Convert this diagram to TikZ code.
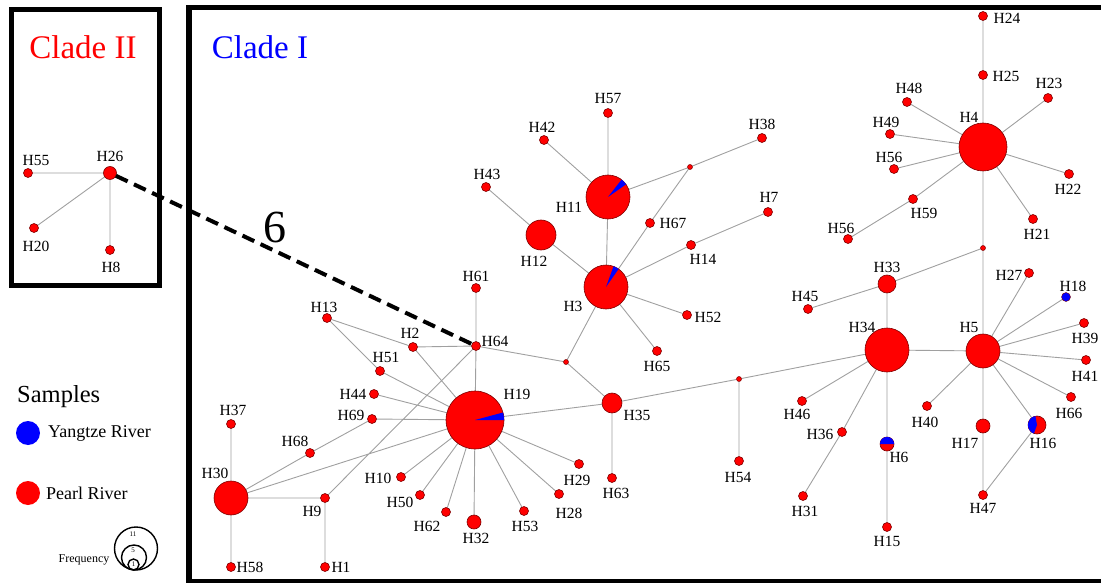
\documentclass[tikz,border=0pt]{standalone}
\usepackage{fontspec}
\setmainfont{Liberation Serif}
\usetikzlibrary{backgrounds}
\definecolor{nodered}{RGB}{255,0,0}
\definecolor{rimred}{RGB}{125,0,0}
\definecolor{edgegray}{RGB}{160,160,160}
\definecolor{pieblue}{RGB}{0,0,255}
\begin{document}
\begin{tikzpicture}[x=1pt,y=-1pt,
  hap/.style={circle,fill=nodered,draw=rimred,line width=0.6pt,inner sep=0pt,outer sep=0pt,minimum size=#1},
  hap/.default=9pt,
  med/.style={circle,fill=nodered,draw=rimred,line width=0.5pt,inner sep=0pt,outer sep=0pt,minimum size=5pt},
  lbl/.style={font=\fontsize{15.5}{16}\selectfont,inner sep=0pt},
  edge/.style={draw=edgegray,line width=0.9pt},
  clade/.style={font=\fontsize{33}{36}\selectfont,inner sep=0pt},
  legtxt/.style={font=\fontsize{18}{20}\selectfont,inner sep=0pt,anchor=west},
  freq/.style={circle,draw=black,line width=1.4pt,inner sep=0pt,outer sep=0pt,minimum size=#1},
  ftxt/.style={font=\fontsize{7}{8}\selectfont,inner sep=0pt}]
\useasboundingbox (0,0) rectangle (1101,583);
% frames
\draw[line width=5pt,miter limit=10] (11.5,9.5) rectangle (159.5,285);
\begin{scope}
\clip (0,0) rectangle (1101,583);
\draw[line width=5.5pt] (1120,7.5) -- (189,7.5) -- (189,581.5) -- (1120,581.5);
\end{scope}
\node[clade,text=red] (c2) at (83,47) {Clade II};
\node[clade,text=pieblue] (c1) at (260,47) {Clade I};

% ---- Clade II nodes
\node[hap=13pt] (H26) at (110,173) {};
\node[hap] (H55) at (28,173) {};
\node[hap] (H20) at (34,228) {};
\node[hap] (H8) at (110,250) {};
% ---- Clade I nodes
\node[hap] (H13) at (327,318) {};
\node[hap] (H2) at (413,347) {};
\node[hap] (H64) at (476,346) {};
\node[hap] (H61) at (476,288) {};
\node[hap] (H51) at (380,371) {};
\node[hap] (H44) at (374,394) {};
\node[hap] (H69) at (372,419) {};
\node[hap=58pt] (H19) at (475,420) {};
\node[hap] (H37) at (231,424) {};
\node[hap] (H68) at (310,453) {};
\node[hap=34pt] (H30) at (231,498) {};
\node[hap] (H9) at (325,498) {};
\node[hap] (H10) at (401,477) {};
\node[hap] (H50) at (420,495) {};
\node[hap] (H62) at (446,512) {};
\node[hap=14pt] (H32) at (474,522) {};
\node[hap] (H53) at (524,511) {};
\node[hap] (H58) at (231,567) {};
\node[hap] (H1) at (325,567) {};
\node[med] (m1) at (566,362) {};
\node[hap=20pt] (H35) at (612,403) {};
\node[med] (m2) at (739,379) {};
\node[hap] (H54) at (739,461) {};
\node[hap] (H29) at (579,464) {};
\node[hap] (H28) at (559,494) {};
\node[hap] (H63) at (612,478) {};
\node[hap] (H65) at (657,351) {};
\node[hap] (H57) at (608,113) {};
\node[hap] (H42) at (544,140) {};
\node[hap] (H38) at (762,138) {};
\node[med] (m3) at (690,167) {};
\node[hap=44pt] (H11) at (608,197) {};
\node[hap] (H43) at (486,187) {};
\node[hap=30pt] (H12) at (541,235) {};
\node[hap] (H67) at (650,223) {};
\node[hap] (H7) at (768,212) {};
\node[hap] (H14) at (691,245) {};
\node[hap=44pt] (H3) at (606,287) {};
\node[hap] (H52) at (687,315) {};
\node[hap] (H24) at (983,16) {};
\node[hap] (H25) at (983,75) {};
\node[hap=48pt] (H4) at (983,147) {};
\node[hap] (H48) at (907,102) {};
\node[hap] (H49) at (890,134) {};
\node[hap] (H56a) at (894,169) {};
\node[hap] (H59) at (913,199) {};
\node[hap] (H56b) at (848,239) {};
\node[hap] (H23) at (1048,98) {};
\node[hap] (H22) at (1069,174) {};
\node[hap] (H21) at (1033,219) {};
\node[med] (m4) at (983,248) {};
\node[hap=18pt] (H33) at (887,284) {};
\node[hap] (H27) at (1029,273) {};
\node[circle,fill=pieblue,draw=rimred,line width=0.4pt,inner sep=0pt,outer sep=0pt,minimum size=9pt] (H18) at (1066,297) {};
\node[hap] (H45) at (808,309) {};
\node[hap=44pt] (H34) at (887,350) {};
\node[hap=34pt] (H5) at (983,351) {};
\node[hap] (H39) at (1084,323) {};
\node[hap] (H41) at (1086,360) {};
\node[hap] (H66) at (1071,397) {};
\node[hap=18pt] (H16) at (1037,425) {};
\node[hap=14pt] (H17) at (983,426) {};
\node[hap] (H47) at (983,495) {};
\node[hap] (H40) at (927,406) {};
\node[hap] (H46) at (802,401) {};
\node[hap] (H36) at (842,432) {};
\node[hap=14pt] (H6) at (887,444) {};
\node[hap] (H31) at (803,496) {};
\node[hap] (H15) at (887,527) {};

% pie slices
\fill[pieblue] (H19.center) \foreach \a in {0,5,...,15}{ -- (H19.\a)} -- cycle;
\fill[pieblue] (H11.center) \foreach \a in {35,40,...,52}{ -- (H11.\a)} -- (H11.52) -- cycle;
\fill[pieblue] (H3.center) \foreach \a in {55,60,...,70}{ -- (H3.\a)} -- cycle;
\fill[pieblue] (H16.center) \foreach \a in {100,110,...,250}{ -- (H16.\a)} -- cycle;
\fill[pieblue] (H6.center) \foreach \a in {0,10,...,180}{ -- (H6.\a)} -- cycle;

% edges
\begin{pgfonlayer}{background}
\path[edge] (H26) -- (H55) (H26) -- (H20) (H26) -- (H8);
\path[edge] (H13) -- (H2) (H13) -- (H51) (H2) -- (H64) (H2) -- (H19)
  (H51) -- (H19) (H44) -- (H19) (H69) -- (H19) (H64) -- (H19)
  (H61) -- (H64) (H64) -- (H9) (H30) -- (H68) (H68) -- (H69)
  (H30) -- (H19) (H30) -- (H9) (H30) -- (H37) (H30) -- (H58) (H9) -- (H1)
  (H10) -- (H19) (H50) -- (H19) (H62) -- (H19) (H32) -- (H19) (H53) -- (H19)
  (H28) -- (H19) (H29) -- (H19) (H19) -- (H35) (H64) -- (m1) (m1) -- (H3)
  (m1) -- (H35) (H35) -- (H63) (H35) -- (m2) (m2) -- (H54) (m2) -- (H34);
\path[edge] (H57) -- (H11) (H42) -- (H11) (H11) -- (H3) (H11) -- (m3)
  (m3) -- (H38) (m3) -- (H67) (H67) -- (H3) (H43) -- (H12) (H12) -- (H3)
  (H3) -- (H14) (H14) -- (H7) (H3) -- (H52) (H3) -- (H65);
\path[edge] (H24) -- (H25) (H25) -- (H4) (H48) -- (H4) (H49) -- (H4)
  (H56a) -- (H4) (H59) -- (H4) (H56b) -- (H59) (H23) -- (H4) (H22) -- (H4)
  (H21) -- (H4) (H4) -- (m4) (m4) -- (H33) (m4) -- (H5) (H45) -- (H33)
  (H33) -- (H34) (H34) -- (H5) (H34) -- (H46) (H34) -- (H36) (H36) -- (H31)
  (H34) -- (H6) (H6) -- (H15) (H5) -- (H27) (H5) -- (H18) (H5) -- (H39)
  (H5) -- (H41) (H5) -- (H66) (H5) -- (H16) (H16) -- (H47) (H5) -- (H17)
  (H17) -- (H47) (H5) -- (H40);
\end{pgfonlayer}

% dashed link
\draw[line width=4pt,dash pattern=on 13pt off 7pt] (H26) -- (H64);
\node[font=\fontsize{46}{50}\selectfont,inner sep=0pt] (six) at (275,227) {6};

% labels
\node[lbl] (lH26) at (110,156) {H26};
\node[lbl] (lH55) at (36,161) {H55};
\node[lbl] (lH20) at (36,246) {H20};
\node[lbl] (lH8) at (111,267) {H8};
\node[lbl] (lH13) at (324,307) {H13};
\node[lbl] (lH2) at (410,333) {H2};
\node[lbl] (lH64) at (495,341) {H64};
\node[lbl] (lH61) at (476,276) {H61};
\node[lbl] (lH51) at (386,357) {H51};
\node[lbl] (lH44) at (353,394) {H44};
\node[lbl] (lH69) at (351,415) {H69};
\node[lbl] (lH19) at (517,394) {H19};
\node[lbl] (lH37) at (233,410) {H37};
\node[lbl] (lH68) at (295,441) {H68};
\node[lbl] (lH30) at (215,473) {H30};
\node[lbl] (lH9) at (312,511) {H9};
\node[lbl] (lH10) at (378,478) {H10};
\node[lbl] (lH50) at (400,502) {H50};
\node[lbl] (lH62) at (427,526) {H62};
\node[lbl] (lH32) at (476,538) {H32};
\node[lbl] (lH53) at (525,526) {H53};
\node[lbl] (lH58) at (250,567) {H58};
\node[lbl] (lH1) at (341,567) {H1};
\node[lbl] (lH35) at (637,415) {H35};
\node[lbl] (lH54) at (738,477) {H54};
\node[lbl] (lH29) at (577,480) {H29};
\node[lbl] (lH28) at (569,513) {H28};
\node[lbl] (lH63) at (616,493) {H63};
\node[lbl] (lH65) at (657,366) {H65};
\node[lbl] (lH57) at (608,99) {H57};
\node[lbl] (lH42) at (542,127) {H42};
\node[lbl] (lH38) at (762,124) {H38};
\node[lbl] (lH11) at (569,207) {H11};
\node[lbl] (lH43) at (487,174) {H43};
\node[lbl] (lH12) at (534,261) {H12};
\node[lbl] (lH67) at (673,223) {H67};
\node[lbl] (lH7) at (769,197) {H7};
\node[lbl] (lH14) at (703,259) {H14};
\node[lbl] (lH3) at (573,306) {H3};
\node[lbl] (lH52) at (708,317) {H52};
\node[lbl] (lH24) at (1007,18) {H24};
\node[lbl] (lH25) at (1006,76) {H25};
\node[lbl] (lH4) at (969,117) {H4};
\node[lbl] (lH48) at (909,88) {H48};
\node[lbl] (lH49) at (886,122) {H49};
\node[lbl] (lH56a) at (889,157) {H56};
\node[lbl] (lH59) at (924,213) {H59};
\node[lbl] (lH56b) at (841,228) {H56};
\node[lbl] (lH23) at (1049,83) {H23};
\node[lbl] (lH22) at (1068,189) {H22};
\node[lbl] (lH21) at (1037,234) {H21};
\node[lbl] (lH33) at (887,267) {H33};
\node[lbl] (lH27) at (1009,275) {H27};
\node[lbl] (lH18) at (1073,286) {H18};
\node[lbl] (lH45) at (805,296) {H45};
\node[lbl] (lH34) at (862,327) {H34};
\node[lbl] (lH5) at (969,327) {H5};
\node[lbl] (lH39) at (1085,338) {H39};
\node[lbl] (lH41) at (1085,376) {H41};
\node[lbl] (lH66) at (1069,413) {H66};
\node[lbl] (lH16) at (1043,443) {H16};
\node[lbl] (lH17) at (965,443) {H17};
\node[lbl] (lH47) at (983,508) {H47};
\node[lbl] (lH40) at (925,422) {H40};
\node[lbl] (lH46) at (797,414) {H46};
\node[lbl] (lH36) at (820,434) {H36};
\node[lbl] (lH6) at (899,457) {H6};
\node[lbl] (lH31) at (805,511) {H31};
\node[lbl] (lH15) at (887,541) {H15};

% legend
\node[font=\fontsize{24.5}{28}\selectfont,inner sep=0pt,anchor=west] (samp) at (17,397) {Samples};
\node[circle,fill=pieblue,inner sep=0pt,minimum size=24pt] (lgb) at (28,433) {};
\node[legtxt] (lgbt) at (48,433) {Yangtze River};
\node[circle,fill=nodered,inner sep=0pt,minimum size=24pt] (lgr) at (28,493) {};
\node[legtxt] (lgrt) at (46,493) {Pearl River};
\node[freq=43pt] (f11) at (136,548.5) {};
\node[freq=25pt] (f5) at (134,557.5) {};
\node[freq=11pt] (f1) at (133.5,564.5) {};
\node[ftxt] (t11) at (133,534.5) {11};
\node[ftxt] (t5) at (133,550) {5};
\node[ftxt] (t1) at (133.5,564) {1};
\node[font=\fontsize{12}{14}\selectfont,inner sep=0pt] (fq) at (84,560) {Frequency};
\end{tikzpicture}
\end{document}
